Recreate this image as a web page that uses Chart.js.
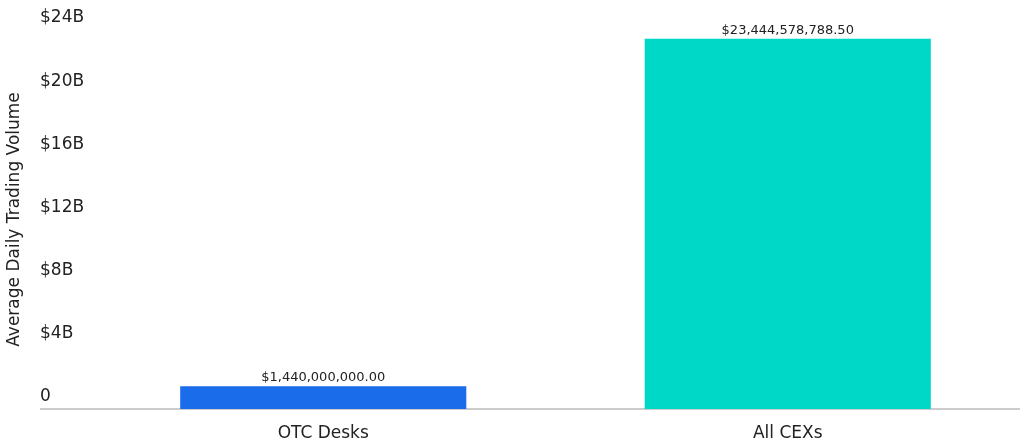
<!DOCTYPE html>
<html>
<head>
<meta charset="utf-8">
<script src="https://cdn.jsdelivr.net/npm/chart.js@4"></script>
<style>
  html, body { margin: 0; padding: 0; background: #fff; }
  #wrap { width: 1023px; height: 442px; position: relative; }
</style>
</head>
<body>
<div id="wrap"><canvas id="chart"></canvas></div>
<script>
const categorias = ["OTC Desks", "All CEXs"];
const volumeMedio = [1440000000.00, 23444578788.50];
const coresBarras = ["#1A6CEA", "#00D8C7"];
const ticksY = [0, 4e9, 8e9, 12e9, 16e9, 20e9, 24e9];

const fonte = "'DejaVu Sans', sans-serif";

function formatarTick(v) {
  if (v === 0) return "0";
  return "$" + (v / 1e9) + "B";
}

function formatarValor(v) {
  return "$" + v.toLocaleString("en-US", { minimumFractionDigits: 2, maximumFractionDigits: 2 });
}

// rótulos acima das barras
const rotulos = {
  id: "rotulos",
  afterDatasetsDraw(chart) {
    const ctx = chart.ctx;
    const meta = chart.getDatasetMeta(0);
    ctx.save();
    ctx.font = "13px " + fonte;
    ctx.fillStyle = "#222";
    ctx.textAlign = "center";
    ctx.textBaseline = "bottom";
    meta.data.forEach((bar, i) => {
      ctx.fillText(formatarValor(volumeMedio[i]), bar.x, bar.y - 2);
    });
    ctx.restore();
  },
};

new Chart(document.getElementById("chart"), {
  type: "bar",
  data: {
    labels: categorias,
    datasets: [
      {
        label: "Average Daily Trading Volume",
        data: volumeMedio,
        backgroundColor: coresBarras,
        borderWidth: 0,
        categoryPercentage: 1,
        barPercentage: 0.616,
      },
    ],
  },
  options: {
    responsive: true,
    maintainAspectRatio: false,
    animation: false,
    layout: { padding: { top: 30, right: 3, left: 0, bottom: 0 } },
    plugins: {
      legend: { display: false },
      tooltip: { enabled: false },
    },
    scales: {
      yt: {
        type: "linear",
        position: "left",
        weight: 1,
        min: 0,
        max: 24e9,
        grid: { display: false, drawTicks: false },
        border: { display: false },
        ticks: { display: false },
        title: {
          display: true,
          text: "Average Daily Trading Volume",
          color: "#222",
          font: { family: fonte, size: 17 },
          padding: { top: 4, bottom: 10 },
        },
        afterFit(s) { s.width = 40; },
      },
      y: {
        position: "left",
        min: 0,
        max: 24e9,
        afterBuildTicks(s) { s.ticks = ticksY.map(v => ({ value: v })); },
        grid: {
          drawOnChartArea: true,
          color: c => (c.tick && c.tick.value === 0 ? "#cccccc" : "rgba(0,0,0,0)"),
          lineWidth: 2,
          tickLength: 51,
        },
        border: { display: false },
        ticks: {
          crossAlign: "far",
          labelOffset: -12,
          color: "#222",
          font: { family: fonte, size: 17 },
          callback: v => formatarTick(v),
        },
        afterFit(s) { s.width = 51; },
      },
      x: {
        grid: { display: false, drawTicks: false },
        border: { display: false },
        ticks: {
          color: "#222",
          padding: 14,
          font: { family: fonte, size: 17 },
        },
        afterFit(s) { s.height = 33; },
      },
    },
  },
  plugins: [rotulos],
});
</script>
</body>
</html>
